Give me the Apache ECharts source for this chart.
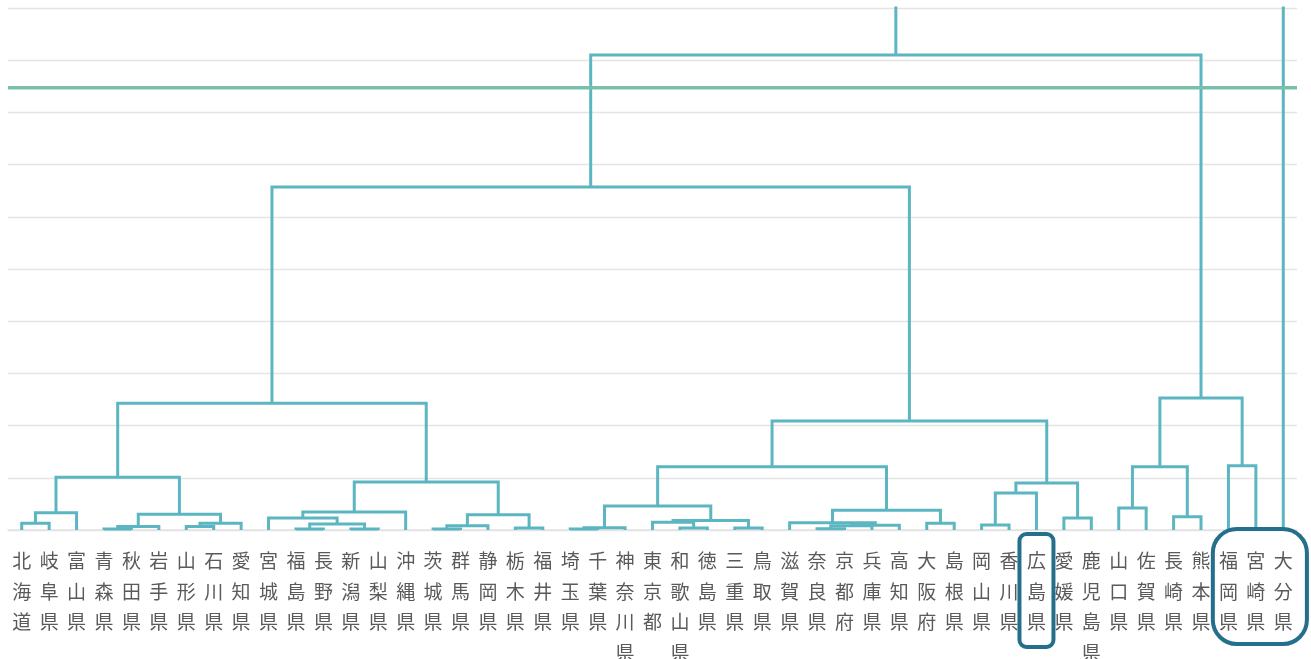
<!DOCTYPE html>
<html><head><meta charset="utf-8">
<script src="https://cdn.jsdelivr.net/npm/echarts@6/dist/echarts.min.js"></script>
<style>html,body{margin:0;padding:0;background:#fff}#c{width:1311px;height:659px}</style>
</head><body><div id="c"></div>
<script>
// Leaf order (dendrogram order)
const prefectures = ['北海道','岐阜県','富山県','青森県','秋田県','岩手県','山形県','石川県','愛知県','宮城県',
  '福島県','長野県','新潟県','山梨県','沖縄県','茨城県','群馬県','静岡県','栃木県','福井県',
  '埼玉県','千葉県','神奈川県','東京都','和歌山県','徳島県','三重県','鳥取県','滋賀県','奈良県',
  '京都府','兵庫県','高知県','大阪府','島根県','岡山県','香川県','広島県','愛媛県','鹿児島県',
  '山口県','佐賀県','長崎県','熊本県','福岡県','宮崎県','大分県'];
// Merges: [left, right, height]; 'M#' refers to merge number #
const merges = [
  ['北海道','岐阜県',1.3],      // M0
  ['M0','富山県',3.3],          // M1
  ['青森県','秋田県',0.2],      // M2
  ['M2','岩手県',0.65],         // M3
  ['山形県','石川県',0.65],     // M4
  ['M4','愛知県',1.3],          // M5
  ['M3','M5',3.0],              // M6
  ['M1','M6',10.1],             // M7
  ['福島県','長野県',0.2],      // M8
  ['新潟県','山梨県',0.2],      // M9
  ['M8','M9',1.15],             // M10
  ['宮城県','M10',2.3],         // M11
  ['M11','沖縄県',3.45],        // M12
  ['茨城県','群馬県',0.2],      // M13
  ['M13','静岡県',0.8],         // M14
  ['栃木県','福井県',0.4],      // M15
  ['M14','M15',2.9],            // M16
  ['M12','M16',9.2],            // M17
  ['M7','M17',24.3],            // M18
  ['埼玉県','千葉県',0.2],      // M19
  ['M19','神奈川県',0.45],      // M20
  ['和歌山県','徳島県',0.4],    // M21
  ['東京都','M21',1.5],         // M22
  ['三重県','鳥取県',0.4],      // M23
  ['M22','M23',1.8],            // M24
  ['M20','M24',4.6],            // M25
  ['奈良県','京都府',0.25],     // M26
  ['M26','兵庫県',0.8],         // M27
  ['M27','高知県',0.9],         // M28
  ['滋賀県','M28',1.4],         // M29
  ['大阪府','島根県',1.3],      // M30
  ['M29','M30',3.8],            // M31
  ['M25','M31',12.1],           // M32
  ['岡山県','香川県',0.95],     // M33
  ['M33','広島県',7.1],         // M34
  ['愛媛県','鹿児島県',2.3],    // M35
  ['M34','M35',9.0],            // M36
  ['M32','M36',20.9],           // M37
  ['M18','M37',65.7],           // M38
  ['山口県','佐賀県',4.2],      // M39
  ['長崎県','熊本県',2.55],     // M40
  ['M39','M40',12.1],           // M41
  ['福岡県','宮崎県',12.3],     // M42
  ['M41','M42',25.3],           // M43
  ['M38','M43',91.0],           // M44
  ['M44','大分県',140]          // M45 (above plot top)
];
const yMin = 0, yMax = 100, yInterval = 10;
const cutHeight = 84.7;
const highlightSingle = '広島県';
const highlightGroup = ['福岡県','宮崎県','大分県'];

// Build dendrogram links from merge table
const pos = {}, ht = {};
prefectures.forEach((p, i) => { pos[p] = i; ht[p] = 0; });
const links = [];
merges.forEach((m, k) => {
  const [a, b, h] = m;
  links.push({ coords: [[pos[a], ht[a]], [pos[a], h], [pos[b], h], [pos[b], ht[b]]] });
  pos['M' + k] = (pos[a] + pos[b]) / 2;
  ht['M' + k] = h;
});

const chart = echarts.init(document.getElementById('c'));
const option = {
  animation: false,
  backgroundColor: '#ffffff',
  grid: { left: 8, right: 14, top: 8, bottom: 129, containLabel: false, outerBoundsMode: 'none' },
  xAxis: [
    { type: 'category', data: prefectures, boundaryGap: true,
      axisTick: { show: false },
      axisLine: { show: true, lineStyle: { color: '#e2e2e2', width: 1.5 } },
      axisLabel: { interval: 0, margin: 16, fontFamily: 'Noto Sans CJK JP', fontSize: 19,
        color: '#5a5a5a', lineHeight: 30.5,
        formatter: v => v.split('').join('\n') },
      splitLine: { show: false } },
    { type: 'value', min: -0.5, max: prefectures.length - 0.5, show: false }
  ],
  yAxis: { type: 'value', min: yMin, max: yMax, interval: yInterval,
    axisLabel: { show: false }, axisTick: { show: false }, axisLine: { show: false },
    splitLine: { show: true, lineStyle: { color: '#e4e4e4', width: 1.3 } } },
  series: [
    { type: 'lines', coordinateSystem: 'cartesian2d', xAxisIndex: 1, yAxisIndex: 0,
      polyline: true, clip: true, silent: true, data: links,
      lineStyle: { color: '#5bb6c1', width: 3, opacity: 1, cap: 'butt', join: 'miter' } },
    { type: 'line', xAxisIndex: 1, yAxisIndex: 0, symbol: 'none', silent: true,
      data: [[-0.5, cutHeight], [prefectures.length - 0.5, cutHeight]],
      lineStyle: { color: '#78c0a9', width: 3.5 }, z: 3 }
  ]
};
chart.setOption(option);

const px = name => chart.convertToPixel({ xAxisIndex: 1 }, prefectures.indexOf(name));
const baseY = chart.convertToPixel({ yAxisIndex: 0 }, 0);
const gx0 = px(highlightGroup[0]), gx1 = px(highlightGroup[highlightGroup.length - 1]);
const sx = px(highlightSingle);
chart.setOption({
  graphic: [
    { type: 'rect', z: 100, shape: { x: sx - 17, y: baseY + 4, width: 34, height: 113, r: 7 },
      style: { fill: 'none', stroke: '#246f8b', lineWidth: 4 } },
    { type: 'rect', z: 100, shape: { x: gx0 - 15.6, y: baseY - 1, width: gx1 - gx0 + 39.2, height: 115, r: 24 },
      style: { fill: 'none', stroke: '#246f8b', lineWidth: 4 } }
  ]
});
</script></body></html>
